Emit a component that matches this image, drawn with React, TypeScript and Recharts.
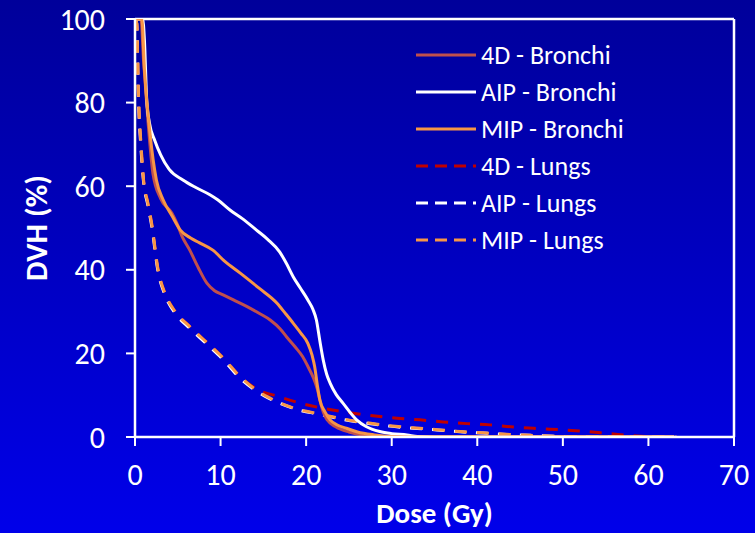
import React from 'react';
import { LineChart, Line, XAxis, YAxis, ReferenceLine, Legend } from 'recharts';

const FONT = "Carlito, 'Open Sans', sans-serif";

const xTicks = [0, 10, 20, 30, 40, 50, 60, 70];
const yTicks = [0, 20, 40, 60, 80, 100];

// 4D - Bronchi
const dose4DBronchi = [0, 0.7, 1, 1.5, 2.1, 3, 4.3, 4.9, 5.5, 6.4, 7.4, 8.4, 9.3, 10.3, 11.5, 13.1, 14.5, 15.8, 17, 17.7, 18.7, 19.6, 20.3, 20.8, 21.3, 21.6, 22, 22.5, 23.5, 25, 27, 29, 63];
const dvh4DBronchi = [100, 100, 90, 76, 63, 57, 53.6, 51.1, 48, 44.7, 40.5, 36.8, 35, 34, 32.8, 31.2, 29.6, 28, 25.8, 24, 21.6, 19.2, 16.5, 14.4, 11.5, 8.9, 6, 4, 2.4, 1.2, 0.4, 0, 0];

// AIP - Bronchi
const doseAIPBronchi = [0, 0.9, 1.1, 1.37, 1.7, 2.3, 3, 4, 5.6, 7, 8.8, 9.7, 11.1, 12.5, 14.2, 15.5, 16.9, 17.7, 18.5, 19.3, 20.2, 20.8, 21.2, 21.6, 22, 22.4, 22.8, 23.5, 24.3, 25.9, 27, 28.6, 30, 31.8, 33, 35, 63];
const dvhAIPBronchi = [100, 100, 95, 80.6, 75, 71, 67.5, 64, 61.5, 59.8, 57.9, 56.7, 54.3, 52.3, 49.5, 47.3, 44.3, 41.5, 38.3, 35.7, 32.8, 30.5, 28, 23, 18.4, 15, 12.9, 10.2, 8.1, 4.1, 2.5, 1.3, 0.8, 0.5, 0.1, 0, 0];

// MIP - Bronchi
const doseMIPBronchi = [0, 0.8, 1.1, 1.75, 2.5, 3.3, 4.3, 5.3, 6.5, 7.5, 9.1, 10.5, 12.3, 14.5, 16.6, 17.6, 18.5, 19.4, 20.2, 20.7, 21, 21.3, 21.6, 22.2, 22.8, 23.7, 24.7, 26, 28, 30, 32, 63];
const dvhMIPBronchi = [100, 100, 88, 72.7, 61.5, 56.7, 53, 49.5, 47.6, 46.5, 44.7, 42, 39.2, 35.6, 32, 29.5, 27.2, 24.8, 22.4, 19.5, 16.8, 12.5, 8.9, 6, 4.1, 2.8, 2.1, 1.2, 0.5, 0.1, 0, 0];

// 4D - Lungs
const dose4DLungs = [0, 0.2, 0.4, 0.7, 1.0, 1.5, 1.95, 2.7, 3.5, 4.7, 6.4, 8.5, 10.3, 12.3, 14.2, 16.9, 19.3, 22.4, 25.1, 27.8, 30.6, 33.3, 36, 38.8, 41.5, 44.2, 47.3, 50, 52.8, 55.5, 58.6, 61.4];
const dvh4DLungs = [100, 99, 82, 70, 61.5, 56, 51, 40, 34.4, 30, 26.4, 22.4, 18.9, 14.4, 11.5, 9.6, 8.1, 6.7, 5.8, 5.1, 4.5, 4.1, 3.6, 3.2, 2.9, 2.4, 2.0, 1.7, 1.3, 0.8, 0.25, 0];

// AIP - Lungs
const doseAIPLungs = [0, 0.2, 0.4, 0.7, 1.0, 1.5, 1.95, 2.7, 3.5, 4.7, 6.4, 8.5, 10.3, 12.3, 14.2, 15.5, 17, 18.9, 21.6, 24.3, 27.1, 29.8, 32.5, 35.3, 38, 40.7, 43.4, 46.2, 50, 55, 60, 63];
const dvhAIPLungs = [100, 99, 81, 69, 61, 55.5, 50.5, 39.5, 34, 29.6, 26, 22, 18.5, 14, 11, 9.4, 8.0, 6.6, 5.4, 4.2, 3.3, 2.6, 2.1, 1.7, 1.25, 0.95, 0.6, 0.4, 0.15, 0.05, 0, 0];

// MIP - Lungs
const doseMIPLungs = [0, 0.2, 0.4, 0.7, 1.0, 1.5, 1.95, 2.7, 3.5, 4.7, 6.4, 8.5, 10.3, 12.3, 14.2, 15.5, 17, 18.9, 21.6, 24.3, 27.1, 29.8, 32.5, 35.3, 38, 40.7, 43.4, 46.2, 50, 55, 60, 63.3];
const dvhMIPLungs = [100, 99, 82, 70, 61.5, 56, 51, 40, 34.4, 30, 26.4, 22.4, 18.9, 14.4, 11.2, 9.6, 8.1, 6.7, 5.5, 4.3, 3.4, 2.7, 2.2, 1.75, 1.3, 1.0, 0.64, 0.4, 0.15, 0.05, 0, 0];

const toPoints = (xs: number[], ys: number[]) => xs.map((x, i) => ({ x, y: ys[i] }));

type Series = { name: string; xs: number[]; ys: number[]; color: string; dashed: boolean };

const legendSeries: Series[] = [
  { name: '4D - Bronchi', xs: dose4DBronchi, ys: dvh4DBronchi, color: '#C0504D', dashed: false },
  { name: 'AIP - Bronchi', xs: doseAIPBronchi, ys: dvhAIPBronchi, color: '#FFFFFF', dashed: false },
  { name: 'MIP - Bronchi', xs: doseMIPBronchi, ys: dvhMIPBronchi, color: '#F79646', dashed: false },
  { name: '4D - Lungs', xs: dose4DLungs, ys: dvh4DLungs, color: '#C00000', dashed: true },
  { name: 'AIP - Lungs', xs: doseAIPLungs, ys: dvhAIPLungs, color: '#FFFFFF', dashed: true },
  { name: 'MIP - Lungs', xs: doseMIPLungs, ys: dvhMIPLungs, color: '#F79646', dashed: true },
];

// draw lungs first, then bronchi
const drawOrder = [3, 4, 5, 0, 1, 2].map((i) => legendSeries[i]);

const CustomLegend = () => (
  <div style={{ fontFamily: FONT, color: '#FFFFFF', fontSize: 26 }}>
    {legendSeries.map((s) => (
      <div key={s.name} style={{ display: 'flex', alignItems: 'center', height: 36.85 }}>
        <svg width={66} height={10}>
          <line
            x1={6}
            x2={66}
            y1={5}
            y2={5}
            stroke={s.color}
            strokeWidth={3}
            strokeDasharray={s.dashed ? '12 7' : undefined}
          />
        </svg>
        <span style={{ marginLeft: 5, whiteSpace: 'nowrap', lineHeight: '36px' }}>{s.name}</span>
      </div>
    ))}
  </div>
);

const YTitle = (props: any) => {
  const vb = props.viewBox || { x: 0, y: 19, width: 135, height: 418 };
  const cy = vb.y + vb.height / 2;
  const cx = 36;
  return (
    <text
      x={cx}
      y={cy}
      transform={`rotate(-90, ${cx}, ${cy})`}
      textAnchor="middle"
      dominantBaseline="central"
      fill="#FFFFFF"
      fontFamily={FONT}
      fontWeight="bold"
      fontSize={31}
    >
      DVH (%)
    </text>
  );
};

const XTitle = (props: any) => {
  const vb = props.viewBox || { x: 135, y: 437, width: 599, height: 96 };
  return (
    <text
      x={vb.x + vb.width / 2}
      y={523}
      textAnchor="middle"
      fill="#FFFFFF"
      fontFamily={FONT}
      fontWeight="bold"
      fontSize={29}
    >
      Dose (Gy)
    </text>
  );
};

export default function App() {
  return (
    <div
      style={{
        position: 'absolute',
        left: 0,
        top: 0,
        width: 755,
        height: 533,
        background: 'linear-gradient(to bottom, #00009A 0%, #0000EA 100%)',
        overflow: 'hidden',
      }}
    >
      <LineChart width={755} height={533} margin={{ top: 19, right: 21, left: 0, bottom: 0 }}>
        <XAxis
          type="number"
          dataKey="x"
          domain={[0, 70]}
          ticks={xTicks}
          allowDataOverflow
          height={96}
          stroke="#FFFFFF"
          strokeWidth={2.5}
          tickSize={9}
          tickMargin={18}
          tick={{ fill: '#FFFFFF', fontSize: 30, fontFamily: FONT }}
          tickLine={{ stroke: '#FFFFFF', strokeWidth: 2 }}
          label={{ content: XTitle }}
        />
        <YAxis
          type="number"
          dataKey="y"
          domain={[0, 100]}
          ticks={yTicks}
          allowDataOverflow
          width={135}
          stroke="#FFFFFF"
          strokeWidth={2.5}
          tickSize={9}
          tickMargin={21}
          tick={{ fill: '#FFFFFF', fontSize: 30, fontFamily: FONT }}
          tickLine={{ stroke: '#FFFFFF', strokeWidth: 2 }}
          label={{ content: YTitle }}
        />
        <ReferenceLine y={100} stroke="#FFFFFF" strokeWidth={2.5} />
        <ReferenceLine x={70} stroke="#FFFFFF" strokeWidth={2.5} />
        {drawOrder.map((s) => (
          <Line
            key={s.name}
            name={s.name}
            data={toPoints(s.xs, s.ys)}
            dataKey="y"
            type="monotone"
            stroke={s.color}
            strokeWidth={3}
            strokeDasharray={s.dashed ? '12 10' : undefined}
            dot={false}
            activeDot={false}
            isAnimationActive={false}
          />
        ))}
        <Legend
          layout="vertical"
          align="center"
          verticalAlign="middle"
          content={() => <CustomLegend />}
          wrapperStyle={{ position: 'absolute', top: 37, left: 410, width: 300 }}
        />
      </LineChart>
    </div>
  );
}
